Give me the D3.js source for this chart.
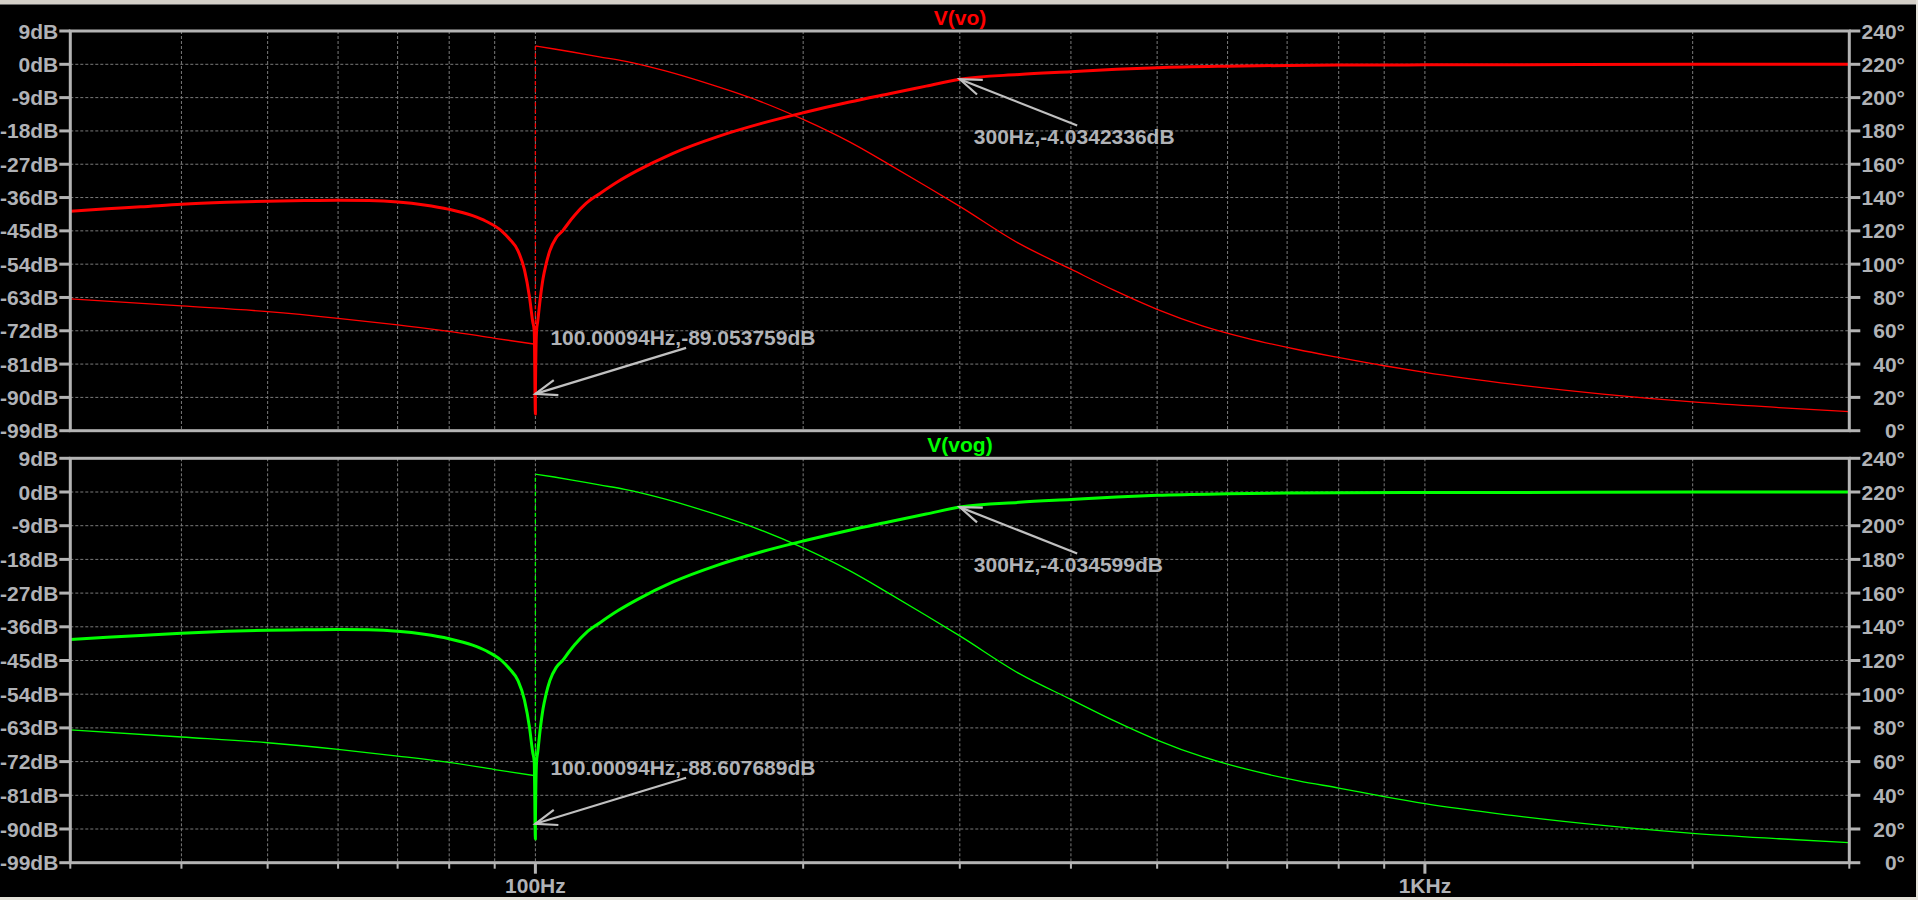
<!DOCTYPE html>
<html><head><meta charset="utf-8">
<script src="https://cdn.jsdelivr.net/npm/d3@7"></script>
<style>html,body{margin:0;padding:0;background:#000;overflow:hidden}</style>
</head><body>
<svg id="c" width="1918" height="900"></svg>
<script>
// ---------------- data ----------------
const freqGrid = [40,50,60,70,80,90,100,200,300,400,500,600,700,800,900,1000,2000];
const freqLabels = [100, 1000];
const freqLabelText = ["100Hz", "1KHz"];
const dbTicks = [9,0,-9,-18,-27,-36,-45,-54,-63,-72,-81,-90,-99];
const degTicks = [240,220,200,180,160,140,120,100,80,60,40,20,0];
const titles = ["V(vo)", "V(vog)"];

// magnitude (dB)
const magFreq = [30,33,36,40,45,50,55,60,65,70,75,80,85,88,91.6,93.5,95.6,97.2,98.5,99.3,99.7,99.9995,100.00094,100.3,100.6,101.3,102.0,102.8,103.8,105.5,107.3,109.0,110.7,114,118.2,124,130,142.6,160,180,200,225.5,250,275,300,350,400,450,500,600,700,800,1000,1500,2000,3000];
const magVo  = [-39.7,-39.0,-38.5,-37.8,-37.3,-37.0,-36.8,-36.7,-36.8,-37.2,-38.0,-39.2,-40.9,-42.4,-45.0,-47.2,-50.4,-55.5,-63.0,-69.5,-72,-94.5,-89.05,-72,-69.5,-63.0,-57.9,-54.0,-50.4,-46.9,-45.0,-42.8,-40.8,-37.6,-34.9,-31.6,-28.8,-24.1,-19.6,-15.9,-13.1,-10.2,-7.95,-5.9,-4.03,-2.75,-2.0,-1.35,-0.9,-0.5,-0.3,-0.22,-0.15,-0.08,0.0,0.0];
const magVog = [-39.4,-38.8,-38.3,-37.7,-37.2,-36.9,-36.8,-36.7,-36.8,-37.2,-38.0,-39.2,-40.9,-42.4,-45.0,-47.2,-50.4,-55.5,-63.0,-69.5,-72,-92.7,-88.61,-72,-69.5,-63.0,-57.9,-54.0,-50.4,-46.9,-45.0,-42.8,-40.8,-37.6,-34.9,-31.6,-28.8,-24.1,-19.6,-15.9,-13.1,-10.2,-7.95,-5.9,-4.03,-2.75,-2.0,-1.35,-0.9,-0.5,-0.3,-0.22,-0.15,-0.08,0.0,0.0];

// phase (degrees) below and above the notch
const phLowFreq = [30,40,50,60,70,80,90,100];
const phLowVo   = [79.2,74.9,71.5,67.5,63.5,59.7,55.5,51.9];
const phLowVog  = [78.8,74.6,71.2,67.3,63.3,59.5,55.3,51.6];
const phHighFreq = [100.00094,105,110,118,126,140,158,178,200,225.5,250,275,300,350,400,447,500,562,630,721,800,900,1000,1259,1585,2000,2500,3000];
const phHighVo   = [231.0,229.2,227.4,224.5,221.9,216.0,207.6,198.2,186.9,173.4,159.8,146.8,134.7,112.3,97.0,84.4,72.9,63.0,55.6,48.6,44.0,39.0,35.0,27.8,22.0,17.3,13.9,11.4];
const phHighVog  = [230.6,228.9,227.1,224.2,221.6,215.8,207.4,198.0,186.8,173.3,159.7,146.7,134.6,112.2,96.9,84.3,72.8,62.9,55.5,48.6,44.3,39.2,35.0,27.9,22.1,17.4,14.2,11.9];

// cursor annotations
const annFreq = [[100.00094, 300],[100.00094, 300]];
const annDb   = [[-89.053759, -4.0342336],[-88.607689, -4.034599]];
const annText = [["100.00094Hz,-89.053759dB","300Hz,-4.0342336dB"],["100.00094Hz,-88.607689dB","300Hz,-4.034599dB"]];

// ---------------- drawing ----------------
const svg = d3.select("#c");
const W = 1918, H = 900;
svg.append("rect").attr("width",W).attr("height",H).attr("fill","#000");
svg.append("rect").attr("x",0).attr("y",0).attr("width",W).attr("height",4).attr("fill","#d4d0c8");
svg.append("rect").attr("x",0).attr("y",4).attr("width",W).attr("height",1).attr("fill","#6a6a6a");
svg.append("rect").attr("x",0).attr("y",897).attr("width",W).attr("height",3).attr("fill","#e4e2da");
svg.append("rect").attr("x",1916).attr("y",0).attr("width",2).attr("height",H).attr("fill","#e4e2da");

const FONT = "'Liberation Sans', Arial, sans-serif";
const AX = "#b4b4b4", TXT = "#b0b2b6", GRID = "#7a7a7a";
const x = d3.scaleLog().domain([30,3000]).range([70.3,1849.3]);
const panels = [
  {y0:31, y1:430.7, color:"#ff0000", mag:magVo, pl:phLowVo, ph:phHighVo},
  {y0:458.3, y1:862.7, color:"#00ff00", mag:magVog, pl:phLowVog, ph:phHighVog}
];

panels.forEach((p, i) => {
  const yL = d3.scaleLinear().domain([-99,9]).range([p.y1,p.y0]);
  const yR = d3.scaleLinear().domain([0,240]).range([p.y1,p.y0]);
  const g = svg.append("g");

  g.selectAll(".vg").data(freqGrid).enter().append("line")
    .attr("x1",d=>x(d)).attr("x2",d=>x(d)).attr("y1",p.y0).attr("y2",p.y1)
    .attr("stroke",GRID).attr("stroke-width",1).attr("stroke-dasharray","3,2");
  g.selectAll(".hg").data(dbTicks.slice(1,-1)).enter().append("line")
    .attr("x1",x(30)).attr("x2",x(3000)).attr("y1",d=>yL(d)).attr("y2",d=>yL(d))
    .attr("stroke",GRID).attr("stroke-width",1).attr("stroke-dasharray","3,2");

  const lineP = d3.line().x(d=>x(d[0])).y(d=>yR(d[1])).curve(d3.curveMonotoneX);
  const low = phLowFreq.map((f,k)=>[f,p.pl[k]]);
  const high = phHighFreq.map((f,k)=>[f,p.ph[k]]);
  g.append("path").attr("d",lineP(low)).attr("fill","none").attr("stroke",p.color).attr("stroke-width",1.3);
  g.append("path").attr("d",lineP(high)).attr("fill","none").attr("stroke",p.color).attr("stroke-width",1.3);
  g.append("path").attr("d",d3.line().x(d=>x(d[0])).y(d=>yR(d[1]))([low[low.length-1], high[0]])).attr("fill","none")
    .attr("stroke",p.color).attr("stroke-width",1.3).attr("stroke-dasharray","4,3");

  const lineM = d3.line().x(d=>x(d[0])).y(d=>yL(d[1])).curve(d3.curveMonotoneX);
  g.append("path").attr("d",lineM(magFreq.map((f,k)=>[f,p.mag[k]])))
    .attr("fill","none").attr("stroke",p.color).attr("stroke-width",3).attr("stroke-linejoin","round");

  g.append("rect").attr("x",x(30)).attr("y",p.y0).attr("width",x(3000)-x(30)).attr("height",p.y1-p.y0)
    .attr("fill","none").attr("stroke",AX).attr("stroke-width",3);

  g.selectAll(".lt").data(dbTicks).enter().append("line")
    .attr("x1",x(30)-11).attr("x2",x(30)).attr("y1",d=>yL(d)).attr("y2",d=>yL(d))
    .attr("stroke",AX).attr("stroke-width",3);
  g.selectAll(".ll").data(dbTicks).enter().append("text")
    .attr("x",x(30)-12).attr("y",d=>yL(d)).attr("dy","0.36em").attr("text-anchor","end")
    .attr("font-family",FONT).attr("font-weight","bold").attr("font-size",21).attr("fill",TXT)
    .text(d=>d+"dB");

  g.selectAll(".rt").data(degTicks).enter().append("line")
    .attr("x1",x(3000)).attr("x2",x(3000)+11).attr("y1",d=>yR(d)).attr("y2",d=>yR(d))
    .attr("stroke",AX).attr("stroke-width",3);
  g.selectAll(".rl").data(degTicks).enter().append("text")
    .attr("x",1905).attr("y",d=>yR(d)).attr("dy","0.36em").attr("text-anchor","end")
    .attr("font-family",FONT).attr("font-weight","bold").attr("font-size",21).attr("fill",TXT)
    .text(d=>d+"\u00b0");

  g.append("text").attr("x",960).attr("y",p.y0-6).attr("text-anchor","middle")
    .attr("font-family",FONT).attr("font-weight","bold").attr("font-size",21).attr("fill",p.color)
    .text(titles[i]);

  const offs = [{dx:150.7, dy:-46, tx:15, ty:-49}, {dx:117.4, dy:46.3, tx:14, ty:65}];
  annFreq[i].forEach((f,k) => {
    const tx0 = x(f), ty0 = yL(annDb[i][k]);
    const o = offs[k];
    const ang = Math.atan2(o.dy,o.dx), L = 23, ha = 20*Math.PI/180;
    const h1 = [tx0+L*Math.cos(ang-ha), ty0+L*Math.sin(ang-ha)];
    const h2 = [tx0+L*Math.cos(ang+ha), ty0+L*Math.sin(ang+ha)];
    g.append("line").attr("x1",tx0).attr("y1",ty0).attr("x2",tx0+o.dx).attr("y2",ty0+o.dy)
      .attr("stroke","#c0c0c0").attr("stroke-width",2.2);
    g.append("path").attr("d",`M${h1[0]},${h1[1]}L${tx0},${ty0}L${h2[0]},${h2[1]}`)
      .attr("fill","none").attr("stroke","#c0c0c0").attr("stroke-width",2.2);
    g.append("text").attr("x",tx0+o.tx).attr("y",ty0+o.ty)
      .attr("font-family",FONT).attr("font-weight","bold").attr("font-size",21).attr("fill",TXT)
      .text(annText[i][k]);
  });

  if (i === 1) {
    g.selectAll(".bt").data(freqGrid.concat([30,3000])).enter().append("line")
      .attr("x1",d=>x(d)).attr("x2",d=>x(d)).attr("y1",p.y1).attr("y2",d=>freqLabels.includes(d)?p.y1+11:p.y1+6)
      .attr("stroke",AX).attr("stroke-width",d=>freqLabels.includes(d)?3:2);
    g.selectAll(".bl").data(freqLabels).enter().append("text")
      .attr("x",d=>x(d)).attr("y",p.y1+30).attr("text-anchor","middle")
      .attr("font-family",FONT).attr("font-weight","bold").attr("font-size",21).attr("fill",TXT)
      .text((d,k)=>freqLabelText[k]);
  }
});
</script>
</body></html>
